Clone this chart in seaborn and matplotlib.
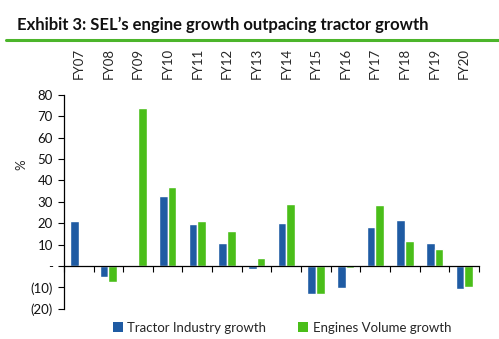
import matplotlib
matplotlib.use("Agg")
import matplotlib.pyplot as plt
import seaborn as sns
import pandas as pd
import numpy as np
from matplotlib.patches import Patch

years = ["FY07", "FY08", "FY09", "FY10", "FY11", "FY12", "FY13",
         "FY14", "FY15", "FY16", "FY17", "FY18", "FY19", "FY20"]
tractor = [21.0, -5.4, 0.5, 32.5, 19.8, 10.9, -1.5, 20.0, -13.2, -10.4, 18.0, 21.6, 10.9, -10.6]
engines = [0.3, -7.3, 74.0, 37.0, 21.0, 16.4, 3.7, 29.0, -12.9, -0.8, 28.4, 11.7, 8.1, -9.8]
series_names = ["Tractor Industry growth", "Engines Volume growth"]
yticks = [-20, -10, 0, 10, 20, 30, 40, 50, 60, 70, 80]
ytick_labels = ["(20)", "(10)", "-", "10", "20", "30", "40", "50", "60", "70", "80"]

colors = ["#1F5BA3", "#4ABE19"]

df = pd.DataFrame({
    "year": years * 2,
    "value": tractor + engines,
    "series": [series_names[0]] * len(years) + [series_names[1]] * len(years),
})

sns.set_style("white")
plt.rcParams["font.family"] = ["Lato", "DejaVu Sans"]

fig = plt.figure(figsize=(4.99, 3.39), dpi=100)
ax = fig.add_axes([0.128, 0.0894, 0.832, 0.6312])

sns.barplot(data=df, x="year", y="value", hue="series", palette=colors,
            width=0.58, ax=ax, legend=False, saturation=1)

ax.set_ylim(-20, 80)
ax.set_xlim(-0.5, len(years) - 0.5)
ax.set_yticks(yticks)
ax.set_yticklabels(ytick_labels, fontsize=9.5, color="#111111")
ax.tick_params(axis="y", direction="out", length=4, width=0.8, color="black", pad=4, left=True)

# category labels on top
ax.set_xticks(range(len(years)))
ax.set_xticklabels(years)
ax.tick_params(axis="x", which="major", bottom=False, labelbottom=False,
               top=False, labeltop=True, labelrotation=90, labelsize=9.5, pad=8)
# boundary ticks at the zero line
ax.set_xticks(np.arange(-0.5, len(years), 1.0), minor=True)
ax.tick_params(axis="x", which="minor", bottom=True, direction="out",
               length=4, width=0.8, color="black")

for s in ["top", "right"]:
    ax.spines[s].set_visible(False)
ax.spines["bottom"].set_position(("data", 0))
ax.spines["bottom"].set_color("black")
ax.spines["bottom"].set_linewidth(0.9)
ax.spines["left"].set_color("black")
ax.spines["left"].set_linewidth(0.9)

ax.set_xlabel("")
ax.set_ylabel("")
fig.text(0.042, 0.513, "%", rotation=90, fontsize=9.5, ha="center", va="center")

# title and green rule
fig.text(0.034, 0.912, "Exhibit 3: SEL\u2019s engine growth outpacing tractor growth",
         fontsize=12, fontweight="bold", ha="left", va="baseline", color="#111111")
fig.add_artist(plt.Line2D([0.012, 1.0], [0.881, 0.881], color="#4CB52B", linewidth=2.2,
                          transform=fig.transFigure))

handles = [Patch(facecolor=c, edgecolor="none") for c in colors]
fig.legend(handles, series_names, loc="center", bbox_to_anchor=(0.565, 0.033),
           ncol=2, frameon=False, fontsize=9.5, handlelength=0.75, handleheight=0.75,
           handletextpad=0.35, columnspacing=2.4)

fig.savefig("out.png", dpi=100)
